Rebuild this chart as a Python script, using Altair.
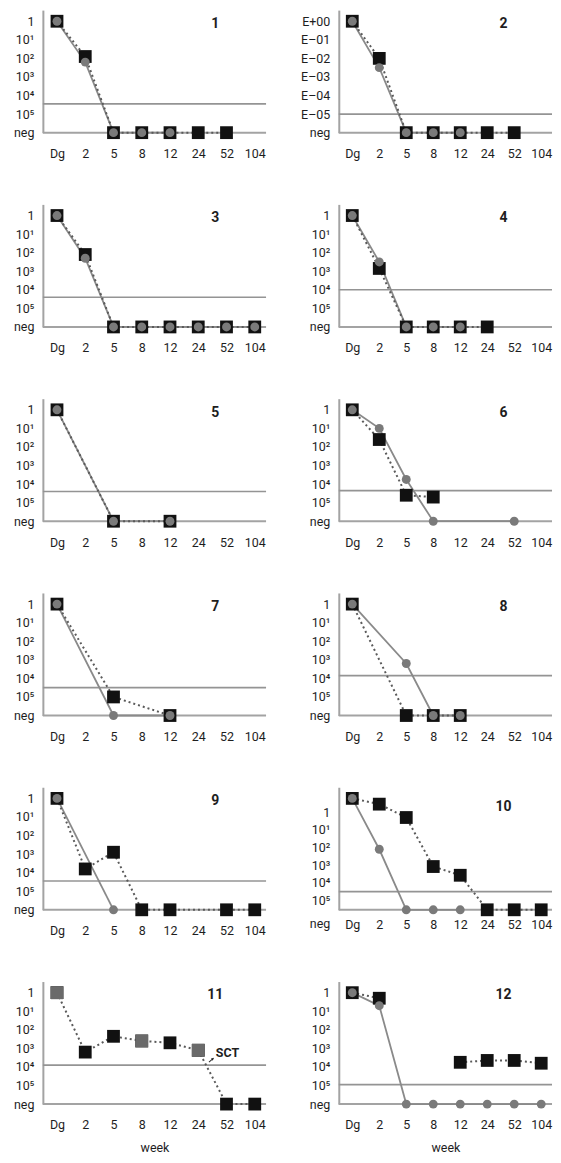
import altair as alt
import pandas as pd

# ---------------- data ----------------
WEEKS = ["Dg", "2", "5", "8", "12", "24", "52", "104"]
POWER_LABELS = ["1", "10¹", "10²", "10³", "10⁴", "10⁵", "neg"]
E_LABELS = ["E+00", "E–01", "E–02", "E–03", "E–04", "E–05", "neg"]
LEVEL_TICKS = [0, 1, 2, 3, 4, 5, 6]
LEVEL_TICKS_P10 = [0.75, 1.7, 2.65, 3.6, 4.55, 5.5, 6]

N = None
# black squares (dotted line); level 0 = "1", 6 = "neg"
SQUARES = {
    1: [0, 1.9, 6, 6, 6, 6, 6, N],
    2: [0, 2.0, 6, 6, 6, 6, 6, N],
    3: [0, 2.1, 6, 6, 6, 6, 6, 6],
    4: [0, 2.85, 6, 6, 6, 6, N, N],
    5: [0, N, 6, N, 6, N, N, N],
    6: [0, 1.6, 4.6, 4.7, N, N, N, N],
    7: [0, N, 5.0, N, 6, N, N, N],
    8: [0, N, 6, 6, 6, N, N, N],
    9: [0, 3.8, 2.9, 6, 6, N, 6, 6],
    10: [0, 0.31, 1.03, 3.67, 4.14, 6, 6, 6],
    11: [0, 3.2, 2.35, 2.6, 2.7, 3.1, 6, 6],
    12: [0, 0.3, N, N, 3.75, 3.65, 3.65, 3.8],
}
# grey circles (solid line)
CIRCLES = {
    1: [0, 2.2, 6, 6, 6, N, N, N],
    2: [0, 2.5, 6, 6, 6, N, N, N],
    3: [0, 2.3, 6, 6, 6, 6, 6, 6],
    4: [0, 2.5, 6, 6, 6, N, N, N],
    5: [0, N, 6, N, 6, N, N, N],
    6: [0, 1.0, 3.75, 6, N, N, 6, N],
    7: [0, N, 6, N, 6, N, N, N],
    8: [0, N, 3.2, 6, 6, N, N, N],
    9: [0, N, 6, N, N, N, N, N],
    10: [0, 2.74, 6, 6, 6, N, N, N],
    11: [N, N, N, N, N, N, N, N],
    12: [0, 0.7, 6, 6, 6, 6, 6, 6],
}
# grey squares without a line (panel 11)
GRAY_SQUARES = {11: [0, N, N, 2.6, N, 3.1, N, N]}
THRESHOLD = {1: 4.45, 2: 5.0, 3: 4.4, 4: 4.0, 5: 4.4, 6: 4.35, 7: 4.5,
             8: 3.85, 9: 4.45, 10: 5.02, 11: 3.9, 12: 4.95}
SQUARE_LINE_BREAK_AFTER = {12: 1}
SCT_TEXT = "SCT"

# ---------------- styling ----------------
FONT = "'Liberation Sans Narrow', 'Arial Narrow', Roboto, sans-serif"
AXIS_COLOR = "#a3a3a3"
TEXT_COLOR = "#1e1e1e"
LEFT_W, RIGHT_W = 224, 214
PLOT_H = 123
FS = 12.5


def series_frame(values, break_after=None):
    recs = []
    seg = 0
    for i, v in enumerate(values):
        if v is None:
            continue
        recs.append({"idx": i, "level": v, "seg": seg})
        if break_after is not None and i == break_after:
            seg += 1
    return pd.DataFrame(recs, columns=["idx", "level", "seg"])


def label_expr(labels, ticks):
    arr_l = "[" + ",".join("'" + s + "'" for s in labels) + "]"
    arr_t = "[" + ",".join(repr(t) for t in ticks) + "]"
    return f"{arr_l}[indexof({arr_t}, datum.value)]"


def make_panel(n, col, bottom):
    is10 = n == 10
    width = LEFT_W if col == 0 else RIGHT_W
    ticks = LEVEL_TICKS_P10 if is10 else LEVEL_TICKS
    ylabels = E_LABELS if n == 2 else POWER_LABELS
    y_ext = 35 if col == 0 else 50

    xticks = list(range(len(WEEKS)))
    x_kw = dict(values=xticks, labelExpr=label_expr(WEEKS, xticks), domain=False,
                ticks=False, grid=False, labelBaseline="middle", labelOverlap=False,
                labelFlush=False, tickCount=30, labelPadding=(15 if is10 else 21))
    if bottom:
        x_kw.update(title="week", titlePadding=8, minExtent=30)
    else:
        x_kw.update(title=None, minExtent=30, maxExtent=30)
    y_kw = dict(values=ticks, labelExpr=label_expr(ylabels, ticks), title=None,
                ticks=False, grid=False, labelPadding=9, labelOverlap=False,
                labelFlush=False, tickCount=30, minExtent=y_ext, maxExtent=y_ext)
    if is10:
        y_kw["labelOffset"] = {"condition": {"test": "datum.value == 6", "value": 14},
                               "value": 0}

    X = alt.X("idx:Q", scale=alt.Scale(domain=[-0.5, 7.4], nice=False, zero=False),
              axis=alt.Axis(**x_kw))
    Y = alt.Y("level:Q", scale=alt.Scale(domain=[-0.6, 6], reverse=True, nice=False, zero=False),
              axis=alt.Axis(**y_kw))

    layers = []
    layers.append(alt.Chart(pd.DataFrame({"level": [6]})).mark_rule(
        color=AXIS_COLOR, strokeWidth=2).encode(y=Y))
    layers.append(alt.Chart(pd.DataFrame({"level": [THRESHOLD[n]]})).mark_rule(
        color="#949494", strokeWidth=1.6).encode(y=Y))

    sq = series_frame(SQUARES[n], SQUARE_LINE_BREAK_AFTER.get(n))
    ci = series_frame(CIRCLES[n])
    gs = series_frame(GRAY_SQUARES.get(n, [N] * 8))

    if len(ci):
        layers.append(alt.Chart(ci).mark_line(color="#8a8a8a", strokeWidth=1.8).encode(
            x=X, y=Y, order="idx:Q"))
    layers.append(alt.Chart(sq).mark_line(color="#5a5a5a", strokeWidth=2,
                                          strokeDash=[2, 3]).encode(
        x=X, y=Y, detail="seg:N", order="idx:Q"))
    layers.append(alt.Chart(sq).mark_point(shape="square", filled=True, size=165,
                                           color="#111111", opacity=1).encode(x=X, y=Y))
    if len(gs):
        layers.append(alt.Chart(gs).mark_point(shape="square", filled=True, size=165,
                                               color="#6a6a6a", opacity=1).encode(x=X, y=Y))
    if len(ci):
        layers.append(alt.Chart(ci).mark_point(shape="circle", filled=True, size=80,
                                               color="#7a7a7a", opacity=1).encode(x=X, y=Y))

    layers.append(alt.Chart(pd.DataFrame({"label": [str(n)]})).mark_text(
        fontWeight="bold", fontSize=14, color=TEXT_COLOR, font=FONT).encode(
        x=alt.datum(5.6), y=alt.datum(0.45 if is10 else 0.15), text="label:N"))

    if n == 11:
        layers.append(alt.Chart(pd.DataFrame({"label": [SCT_TEXT]})).mark_text(
            fontWeight="bold", fontSize=FS, color=TEXT_COLOR, font=FONT, align="left").encode(
            x=alt.datum(5.62), y=alt.datum(3.25), text="label:N"))
        layers.append(alt.Chart(pd.DataFrame({"label": [SCT_TEXT]})).mark_point(
            shape="arrow", angle=50, filled=True, size=45, color="#222222", opacity=1).encode(
            x=alt.datum(5.47), y=alt.datum(3.62)))

    return alt.layer(*layers).properties(width=width, height=PLOT_H)


rows = []
for r in range(6):
    left = make_panel(2 * r + 1, 0, r == 5)
    right = make_panel(2 * r + 2, 1, r == 5)
    rows.append(alt.hconcat(left, right, spacing=22))

chart = (
    alt.vconcat(*rows, spacing=42)
    .properties(padding=0)
    .configure(font=FONT)
    .configure_view(stroke=None)
    .configure_axis(labelFont=FONT, labelFontSize=FS, labelColor=TEXT_COLOR,
                    domainColor=AXIS_COLOR, domainWidth=2, titleFont=FONT,
                    titleFontSize=FS, titleFontWeight="normal", titleColor=TEXT_COLOR,
                    labelOverlap=False)
)

chart.save("out.html", embed_options={"renderer": "svg", "actions": False})
